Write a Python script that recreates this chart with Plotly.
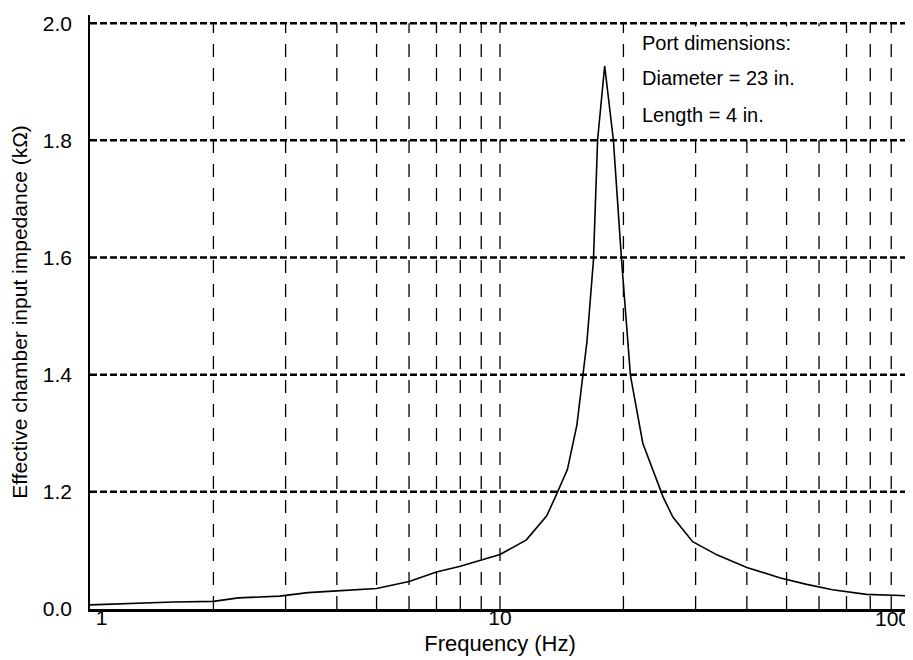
import plotly.graph_objects as go

# ---- data ----
FREQ_HZ = [1.0, 1.6, 2.0, 2.3, 2.9, 3.4, 4.0, 5.0, 6.0, 7.0, 8.0, 8.9, 10.0, 11.6,
           13.0, 13.7, 14.6, 15.4, 15.9, 16.3, 16.9, 17.3, 18.0, 18.9, 19.8, 20.5,
           20.8, 22.3, 25.0, 26.4, 29.5, 33.9, 40.0, 48.3, 56.0, 64.7, 78.3, 94.6, 100.0]
IMPEDANCE = [1.007, 1.012, 1.013, 1.019, 1.022, 1.028, 1.031, 1.035, 1.047, 1.063,
             1.073, 1.083, 1.093, 1.118, 1.159, 1.194, 1.238, 1.314, 1.400, 1.457,
             1.595, 1.801, 1.927, 1.801, 1.594, 1.456, 1.399, 1.283, 1.191, 1.157,
             1.115, 1.092, 1.071, 1.053, 1.042, 1.033, 1.025, 1.023, 1.022]

X_TICK_VALS = [1, 10]
X_TICK_TEXT = ["\u00a0\u00a0\u00a0\u00a01", "10"]
X_END_TICK_VALS = [100]
X_END_TICK_TEXT = ["100"]
Y_TICK_VALS = [1.0, 1.2, 1.4, 1.6, 1.8, 2.0]
Y_TICK_TEXT = ["0.0", "1.2", "1.4", "1.6", "1.8", "2.0"]
V_GRID = [2, 3, 4, 5, 6, 7, 8, 9, 10, 20, 30, 40, 50, 60, 70, 80, 90]
H_GRID = [1.2, 1.4, 1.6, 1.8, 2.0]
NOTE_LINES = ["Port dimensions:", "Diameter = 23 in.", "Length = 4 in."]
NOTE_Y = [1.967, 1.906, 1.843]

X_MIN, X_MAX = 1, 100
Y_MIN, Y_MAX = 1.0, 2.014

FONT = "Liberation Sans, Arial, Helvetica, sans-serif"

fig = go.Figure()
fig.add_trace(go.Scatter(x=FREQ_HZ, y=IMPEDANCE, mode="lines",
                         line=dict(color="black", width=1.6), hoverinfo="skip"))
# empty trace so the overlaid end-label axis is drawn
fig.add_trace(go.Scatter(x=[], y=[], xaxis="x2", yaxis="y", mode="lines",
                         hoverinfo="skip", showlegend=False))

shapes = []
for f in V_GRID:
    shapes.append(dict(type="line", xref="x", yref="y", x0=f, x1=f, y0=Y_MIN, y1=2.0,
                       layer="below", line=dict(color="black", width=1.3, dash="13px,11px")))
# white box behind the note
shapes.append(dict(type="rect", xref="x", yref="y", x0=24, x1=65, y0=1.805, y1=1.995,
                   layer="below", fillcolor="white", line=dict(width=0)))
for v in H_GRID:
    shapes.append(dict(type="line", xref="x", yref="y", x0=X_MIN, x1=X_MAX, y0=v, y1=v,
                       layer="below", line=dict(color="black", width=2.5, dash="7px,3px")))
# right frame line
shapes.append(dict(type="line", xref="paper", yref="paper", x0=1, x1=1, y0=0, y1=1,
                   line=dict(color="black", width=1.5)))

annotations = []
for txt, yv in zip(NOTE_LINES, NOTE_Y):
    annotations.append(dict(x=1.341, y=yv, xref="x", yref="y", text=txt, showarrow=False,
                            xanchor="left", yanchor="middle",
                            font=dict(family=FONT, size=20, color="black")))

tickfont = dict(family=FONT, size=21, color="black")

# the page body adds an 8px offset, so the figure is sized to fit the window
fig.update_layout(
    width=905, height=652,
    margin=dict(l=82, r=3, t=7, b=51),
    paper_bgcolor="white", plot_bgcolor="white",
    showlegend=False,
    font=dict(family=FONT, color="black"),
    shapes=shapes, annotations=annotations,
    xaxis=dict(type="log", range=[0, 2], showgrid=False, zeroline=False,
               showline=True, linecolor="black", linewidth=3,
               tickvals=X_TICK_VALS, ticktext=X_TICK_TEXT, ticks="",
               automargin=False, ticklabelstandoff=-12,
               tickfont=tickfont,
               title=dict(text="Frequency (Hz)", font=dict(family=FONT, size=22), standoff=8)),
    xaxis2=dict(type="log", range=[0, 2], overlaying="x", anchor="y", side="bottom",
                showgrid=False, zeroline=False, showline=False,
                tickvals=X_END_TICK_VALS, ticktext=X_END_TICK_TEXT, ticks="",
                ticklabelposition="outside left", ticklabelstandoff=-5,
                automargin=False, tickfont=tickfont),
    yaxis=dict(range=[Y_MIN, Y_MAX], showgrid=False, zeroline=False,
               showline=True, linecolor="black", linewidth=1.5,
               tickvals=Y_TICK_VALS, ticktext=Y_TICK_TEXT, ticks="",
               ticklabelstandoff=12, automargin=False,
               tickfont=tickfont,
               title=dict(text="Effective chamber input impedance (k\u03a9)",
                          font=dict(family=FONT, size=21), standoff=11)),
)

fig.write_html("out.html")
